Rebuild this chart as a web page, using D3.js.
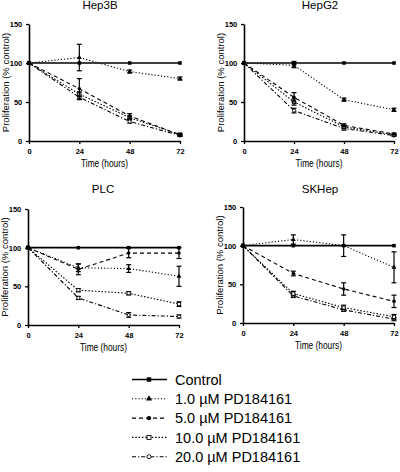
<!DOCTYPE html>
<html><head><meta charset="utf-8">
<script src="https://cdn.jsdelivr.net/npm/d3@7"></script>
<style>body{margin:0;background:#fff}svg{display:block}</style>
</head><body>
<svg id="c" width="400" height="472"></svg>
<script>
const times = [0, 24, 48, 72];
const xTicks = [0, 24, 48, 72];
const yTicks = [0, 50, 100, 150];
const seriesNames = ["Control", "1.0 \u00b5M PD184161", "5.0 \u00b5M PD184161", "10.0 \u00b5M PD184161", "20.0 \u00b5M PD184161"];
const panelTitles = ["Hep3B", "HepG2", "PLC", "SKHep"];

// values per panel: [control, 1.0, 5.0, 10.0, 20.0]
const hep3bValues = [[100,100,100,100],[100,107,89,80],[100,67,32,8],[100,60,30,8],[100,56,25,7]];
const hep3bErrors = [[0,0,0,0],[0,17,2,2],[0,13,3,2],[0,3,2,1],[0,3,2,1]];
const hepg2Values = [[100,100,100,100],[100,97,53,40],[100,56,20,9],[100,50,18,8],[100,39,16,7]];
const hepg2Errors = [[0,2,0,0],[0,3,2,2],[0,6,2,1],[0,4,2,1],[0,3,2,1]];
const plcValues = [[100,100,100,100],[100,74,73,63],[100,72,93,93],[100,45,41,27],[100,35,13,11]];
const plcErrors = [[0,0,0,0],[0,5,5,13],[0,7,6,7],[0,2,2,3],[0,2,3,2]];
const skhepValues = [[100,100,100,100],[100,108,100,72],[100,64,44,28],[100,38,20,8],[100,35,17,5]];
const skhepErrors = [[0,0,0,0],[0,6,14,20],[0,3,8,8],[0,3,3,3],[0,2,2,2]];

const panelData = [[hep3bValues,hep3bErrors],[hepg2Values,hepg2Errors],[plcValues,plcErrors],[skhepValues,skhepErrors]];

// layout (geometry)
const panels = [
  {x0:29, x1:180, yb:141, yt:24, tx:100, ty:9},
  {x0:244, x1:394, yb:141, yt:24, tx:320, ty:9},
  {x0:28, x1:179, yb:325, yt:209, tx:103, ty:193},
  {x0:243, x1:394, yb:323, yt:207, tx:320, ty:193}
];
const dashes = [null, "1.2,2", "4,3", "1.5,1.8", "4,2,1.2,2"];
const markers = ["square","triangle","circle","osquare","ocircle"];
const widths = [1.6, 1.1, 1.1, 1.1, 1.1];

const svg = d3.select("#c");
const font = "Liberation Sans, Arial, sans-serif";

function drawMarker(g, type, x, y, s) {
  s = s || 1;
  if (type === "square") g.append("rect").attr("x", x-2.2*s).attr("y", y-2.2*s).attr("width", 4.4*s).attr("height", 4.4*s).attr("fill", "#000");
  else if (type === "triangle") g.append("path").attr("d", d3.symbol(d3.symbolTriangle, 16*s*s)()).attr("transform", `translate(${x},${y})`).attr("fill", "#000");
  else if (type === "circle") g.append("circle").attr("cx", x).attr("cy", y).attr("r", 2.2*s).attr("fill", "#000");
  else if (type === "osquare") g.append("rect").attr("x", x-2*s).attr("y", y-2*s).attr("width", 4*s).attr("height", 4*s).attr("fill", "#fff").attr("stroke", "#000").attr("stroke-width", 0.9);
  else if (type === "ocircle") g.append("circle").attr("cx", x).attr("cy", y).attr("r", 2*s).attr("fill", "#fff").attr("stroke", "#000").attr("stroke-width", 0.9);
}

panels.forEach((p, pi) => {
  const x = d3.scaleLinear().domain([0, 72]).range([p.x0, p.x1]);
  const y = d3.scaleLinear().domain([0, 150]).range([p.yb, p.yt]);
  const g = svg.append("g");

  const xa = g.append("g").attr("transform", `translate(0,${p.yb})`)
    .call(d3.axisBottom(x).tickValues(xTicks).tickSize(3).tickSizeOuter(0));
  const ya = g.append("g").attr("transform", `translate(${p.x0},0)`)
    .call(d3.axisLeft(y).tickValues(yTicks).tickSize(3).tickSizeOuter(0));
  [xa, ya].forEach(a => {
    a.select(".domain").attr("stroke", "#000").attr("stroke-width", 1.6);
    a.selectAll(".tick line").attr("stroke", "#000").attr("stroke-width", 1.3);
    a.selectAll("text").attr("font-family", font).attr("font-size", 7.5).attr("font-weight", "bold").attr("fill", "#000");
  });
  xa.selectAll("text").attr("dy", "0.9em");
  ya.selectAll("text").attr("dx", "-0.1em");

  g.append("text").attr("x", (p.x0+p.x1)/2).attr("y", p.yb + 26).attr("text-anchor", "middle")
    .attr("font-family", font).attr("font-size", 10).attr("textLength", 47).attr("lengthAdjust", "spacingAndGlyphs").text("Time (hours)");
  g.append("text").attr("transform", `translate(${p.x0-20},${(p.yb+p.yt)/2}) rotate(-90)`)
    .attr("text-anchor", "middle").attr("font-family", font).attr("font-size", 9.5).text("Proliferation (% control)");
  g.append("text").attr("x", p.tx).attr("y", p.ty).attr("text-anchor", "middle")
    .attr("font-family", font).attr("font-size", 11.5).text(panelTitles[pi]);

  const [vals, errs] = panelData[pi];
  const line = d3.line().x((d, i) => x(times[i])).y(d => y(d));
  for (let s = vals.length - 1; s >= 0; s--) {
    g.append("path").attr("d", line(vals[s])).attr("fill", "none").attr("stroke", "#000")
      .attr("stroke-width", widths[s]).attr("stroke-dasharray", dashes[s]);
    vals[s].forEach((v, i) => {
      const e = errs[s][i];
      if (e > 0) {
        const cx = x(times[i]);
        g.append("line").attr("x1", cx).attr("x2", cx).attr("y1", y(v+e)).attr("y2", y(v-e)).attr("stroke", "#000").attr("stroke-width", 1.2);
        [v+e, v-e].forEach(w => g.append("line").attr("x1", cx-2.5).attr("x2", cx+2.5).attr("y1", y(w)).attr("y2", y(w)).attr("stroke", "#000").attr("stroke-width", 1.2));
      }
      drawMarker(g, markers[s], x(times[i]), y(v), 0.8);
    });
  }
});

// legend
const lg = svg.append("g");
seriesNames.forEach((name, i) => {
  const yy = 379.5 + i * 19.3;
  lg.append("line").attr("x1", 132).attr("x2", 167).attr("y1", yy).attr("y2", yy)
    .attr("stroke", "#000").attr("stroke-width", widths[i]).attr("stroke-dasharray", dashes[i]);
  drawMarker(lg, markers[i], 149, yy, 1);
  lg.append("text").attr("x", 175).attr("y", yy + 5.3).attr("font-family", font).attr("font-size", 14.5).text(name);
});
</script>
</body></html>
